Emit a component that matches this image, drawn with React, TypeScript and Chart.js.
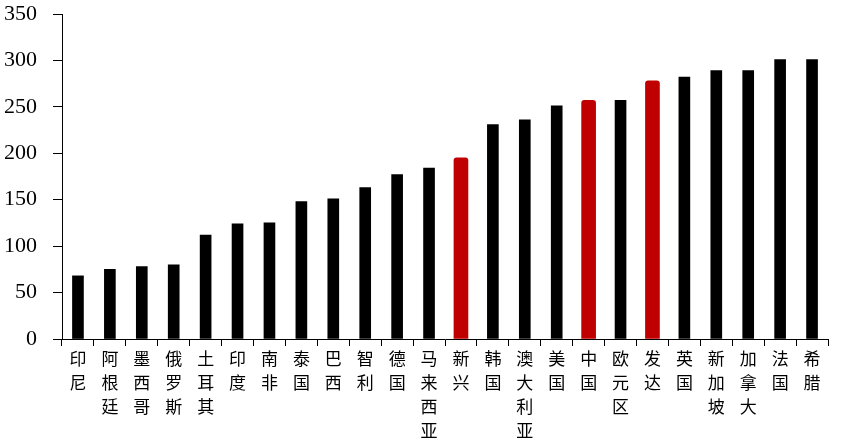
import { useEffect, useRef } from "react";
import { Chart, registerables } from "chart.js";

Chart.register(...registerables);

// pays / régions, dans l'ordre du graphique
const categories = [
  "印尼", "阿根廷", "墨西哥", "俄罗斯", "土耳其", "印度", "南非", "泰国",
  "巴西", "智利", "德国", "马来西亚", "新兴", "韩国", "澳大利亚", "美国",
  "中国", "欧元区", "发达", "英国", "新加坡", "加拿大", "法国", "希腊",
];

const values = [
  68, 75, 78, 80, 112, 124, 125, 148,
  151, 163, 177, 184, 195, 231, 236, 251,
  257, 257, 278, 282, 289, 289, 301, 301,
];

// barres mises en évidence en rouge
const highlighted = ["新兴", "中国", "发达"];

const yTicks = [0, 50, 100, 150, 200, 250, 300, 350];

export default function App() {
  const chartRef = useRef<HTMLCanvasElement>(null);
  const chartInstance = useRef<Chart | null>(null);

  useEffect(() => {
    document.body.style.margin = "0";
    document.body.style.background = "#ffffff";
    if (!chartRef.current) return;
    const ctx = chartRef.current.getContext("2d");
    if (!ctx) return;

    if (chartInstance.current) chartInstance.current.destroy();

    const blackData = values.map((v, i) => (highlighted.includes(categories[i]) ? null : v));
    const redData = values.map((v, i) => (highlighted.includes(categories[i]) ? v : null));

    chartInstance.current = new Chart(ctx, {
      type: "bar",
      data: {
        labels: categories.map((c) => c.split("")),
        datasets: [
          {
            data: blackData,
            backgroundColor: "#000000",
            barThickness: 11,
            borderWidth: 0,
          },
          {
            data: redData,
            backgroundColor: "#c00000",
            barThickness: 14,
            borderWidth: 0,
            borderRadius: { topLeft: 3, topRight: 3, bottomLeft: 0, bottomRight: 0 },
            borderSkipped: "bottom",
          },
        ],
      },
      options: {
        animation: false,
        responsive: false,
        grouped: false,
        layout: { padding: { top: 14, right: 37, left: 0, bottom: 0 } },
        plugins: {
          legend: { display: false },
          tooltip: { enabled: false },
        },
        scales: {
          x: {
            offset: true,
            grid: {
              offset: true,
              drawOnChartArea: false,
              drawTicks: true,
              tickLength: 7,
              color: "#000000",
            },
            border: { display: true, color: "#000000", width: 1 },
            ticks: {
              color: "#000000",
              padding: 1,
              autoSkip: false,
              maxRotation: 0,
              font: { family: "'Noto Sans CJK SC'", size: 17, lineHeight: "24px" },
            },
            afterFit: (scale) => {
              scale.height = 108;
              scale.paddingLeft = 0;
              scale.paddingRight = 0;
            },
          },
          y: {
            min: 0,
            max: 350,
            afterBuildTicks: (scale) => {
              scale.ticks = yTicks.map((v) => ({ value: v }));
            },
            grid: {
              drawOnChartArea: false,
              drawTicks: true,
              tickLength: 9,
              color: "#000000",
            },
            border: { display: true, color: "#000000", width: 1 },
            ticks: {
              color: "#000000",
              padding: 16,
              font: { family: "'Liberation Serif'", size: 22 },
            },
            afterFit: (scale) => {
              scale.width = 62;
              scale.paddingTop = 0;
              scale.paddingBottom = 0;
            },
          },
        },
      },
    });

    return () => {
      if (chartInstance.current) {
        chartInstance.current.destroy();
        chartInstance.current = null;
      }
    };
  }, []);

  return <canvas ref={chartRef} width={865} height={447} style={{ display: "block" }} />;
}
